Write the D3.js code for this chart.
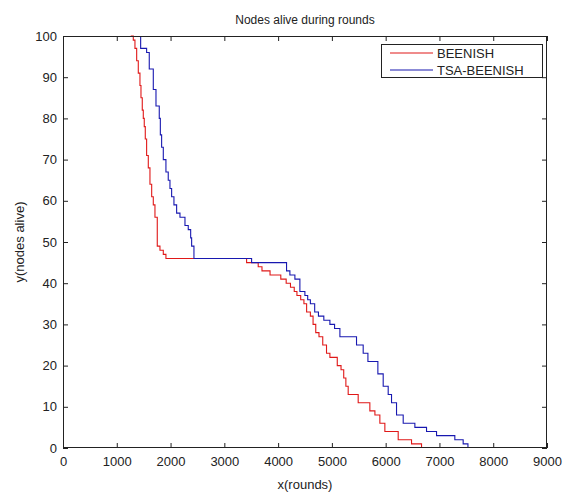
<!doctype html>
<html>
<head>
<meta charset="utf-8">
<script src="https://d3js.org/d3.v7.min.js"></script>
<style>
  body { margin: 0; background: #fff; }
  text { font-family: "Liberation Sans", Arial, sans-serif; fill: #222; }
</style>
</head>
<body>
<script>
// rounds at which the alive count changes (step after)
var beenishRounds = [1260, 1307, 1338, 1370, 1400, 1431, 1450, 1474, 1493, 1511, 1530, 1555, 1586, 1617, 1649, 1679, 1710, 1753, 1803, 1865, 1914, 3414, 3630, 3700, 3850, 4050, 4150, 4230, 4300, 4350, 4420, 4480, 4530, 4600, 4650, 4700, 4760, 4830, 4900, 4963, 5100, 5170, 5220, 5260, 5303, 5489, 5706, 5800, 5892, 5985, 6233, 6481, 6667];
var beenishAlive  = [100, 99, 97, 94, 91, 88, 85, 82, 80, 78, 75, 71, 68, 64, 61, 59, 56, 49, 48, 47, 46, 45, 44, 43, 42, 41, 40, 39, 38, 37, 36, 35, 33, 32, 30, 28, 27, 25, 23, 22, 20, 19, 17, 15, 13, 11, 9, 8, 6, 4, 2, 1, 0];

var tsaRounds = [1444, 1444, 1555, 1604, 1679, 1729, 1790, 1810, 1834, 1865, 1914, 1957, 1989, 2020, 2063, 2113, 2175, 2268, 2329, 2374, 2392, 2435, 3507, 4157, 4219, 4312, 4405, 4498, 4550, 4600, 4680, 4750, 4850, 4963, 5050, 5149, 5458, 5582, 5670, 5855, 5954, 6047, 6109, 6202, 6326, 6543, 6760, 6946, 7286, 7441, 7530];
var tsaAlive  = [100, 97, 96, 92, 87, 83, 80, 76, 73, 70, 67, 65, 63, 61, 59, 57, 56, 54, 53, 51, 49, 46, 45, 43, 42, 41, 38, 37, 36, 35, 33, 32, 31, 30, 29, 27, 25, 23, 21, 18, 15, 13, 11, 8, 6, 5, 4, 3, 2, 1, 0];

var xTicks = [0, 1000, 2000, 3000, 4000, 5000, 6000, 7000, 8000, 9000];
var yTicks = [0, 10, 20, 30, 40, 50, 60, 70, 80, 90, 100];
var seriesNames = ["BEENISH", "TSA-BEENISH"];
var seriesColors = ["#e01818", "#1818b0"];

var W = 568, H = 494;
var mLeft = 63, mRight = 547, mTop = 36, mBottom = 448;

var svg = d3.select("body").append("svg")
    .attr("width", W)
    .attr("height", H);

var x = d3.scaleLinear().domain([0, 9000]).range([mLeft, mRight]);
var y = d3.scaleLinear().domain([0, 100]).range([mBottom, mTop]);

svg.append("clipPath").attr("id", "clip")
    .append("rect")
    .attr("x", mLeft).attr("y", mTop - 1)
    .attr("width", mRight - mLeft).attr("height", mBottom - mTop + 2);

var line = d3.line()
    .x(function(d) { return x(d[0]); })
    .y(function(d) { return y(d[1]); })
    .curve(d3.curveStepAfter);

var series = [
    d3.zip(beenishRounds, beenishAlive),
    d3.zip(tsaRounds, tsaAlive)
];

series.forEach(function(s, i) {
    svg.append("path")
        .datum(s)
        .attr("clip-path", "url(#clip)")
        .attr("fill", "none")
        .attr("stroke", seriesColors[i])
        .attr("stroke-width", 1.1)
        .attr("d", line);
});

// axes, MATLAB style: ticks point inward, mirrored on top and right
var tick = 5;
var fmt = d3.format("d");
svg.append("g")
    .attr("transform", "translate(0," + mBottom + ")")
    .call(d3.axisBottom(x).tickValues(xTicks).tickSize(-tick).tickPadding(9).tickFormat(fmt))
    .call(function(g) { g.select(".domain").remove(); });
svg.append("g")
    .attr("transform", "translate(0," + mTop + ")")
    .call(d3.axisTop(x).tickValues(xTicks).tickSize(-tick).tickFormat(""))
    .call(function(g) { g.select(".domain").remove(); });
svg.append("g")
    .attr("transform", "translate(" + mLeft + ",0)")
    .call(d3.axisLeft(y).tickValues(yTicks).tickSize(-tick).tickPadding(6).tickFormat(fmt))
    .call(function(g) { g.select(".domain").remove(); });
svg.append("g")
    .attr("transform", "translate(" + mRight + ",0)")
    .call(d3.axisRight(y).tickValues(yTicks).tickSize(-tick).tickFormat(""))
    .call(function(g) { g.select(".domain").remove(); });

svg.selectAll(".tick line").attr("stroke", "#222");
svg.selectAll(".tick text")
    .style("font-family", "'Liberation Sans', Arial, sans-serif")
    .style("font-size", "13px")
    .attr("fill", "#222");

svg.append("rect")
    .attr("x", mLeft + 0.5).attr("y", mTop + 0.5)
    .attr("width", mRight - mLeft - 1).attr("height", mBottom - mTop - 1)
    .attr("fill", "none")
    .attr("stroke", "#222");

// titles
svg.append("text")
    .attr("x", (mLeft + mRight) / 2)
    .attr("y", 24)
    .attr("text-anchor", "middle")
    .style("font-size", "12px")
    .text("Nodes alive during rounds");

svg.append("text")
    .attr("x", (mLeft + mRight) / 2)
    .attr("y", 489)
    .attr("text-anchor", "middle")
    .style("font-size", "13px")
    .text("x(rounds)");

svg.append("text")
    .attr("transform", "translate(24," + ((mTop + mBottom) / 2) + ") rotate(-90)")
    .attr("text-anchor", "middle")
    .style("font-size", "13px")
    .text("y(nodes alive)");

// legend
var legend = svg.append("g").attr("transform", "translate(381,44)");
legend.append("rect")
    .attr("x", 0.5).attr("y", 0.5)
    .attr("width", 161).attr("height", 33)
    .attr("fill", "#fff")
    .attr("stroke", "#222");

var items = legend.selectAll(".item")
    .data(seriesNames)
    .enter().append("g")
    .attr("class", "item")
    .attr("transform", function(d, i) { return "translate(0," + (9 + i * 17) + ")"; });

items.append("line")
    .attr("x1", 9).attr("x2", 52)
    .attr("y1", 0).attr("y2", 0)
    .attr("stroke", function(d, i) { return seriesColors[i]; })
    .attr("stroke-width", 1.1);

items.append("text")
    .attr("x", 56)
    .attr("y", 5)
    .style("font-size", "13px")
    .text(function(d) { return d; });
</script>
</body>
</html>
